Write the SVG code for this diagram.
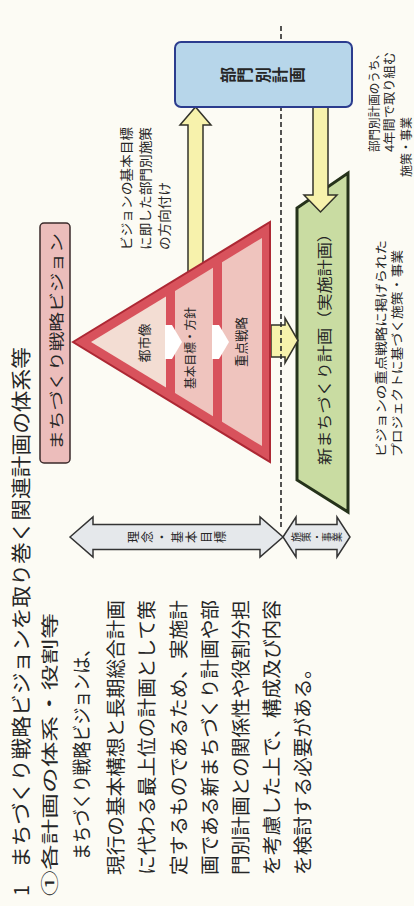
<svg xmlns="http://www.w3.org/2000/svg" width="414" height="906" viewBox="0 0 414 906">
<style>
text{font-family:"Noto Sans CJK JP","Noto Sans",sans-serif;fill:#262626;dominant-baseline:central}
.c{text-anchor:middle}
.yel{fill:#f7f2ac;stroke:#33332a;stroke-width:1.5;stroke-linejoin:miter}
.dbl{fill:#e5e8eb;stroke:#333;stroke-width:1.5;stroke-linejoin:miter}
.sec{fill:#efc4be}
.wh{fill:#ffffff}
</style>
<rect width="414" height="906" fill="#fcfbf4"/>
<g transform="translate(0,906) rotate(-90)">
  <g id="heading">
    <text x="10" y="20" font-size="20">1</text>
    <text x="38" y="20" font-size="20" textLength="521" lengthAdjust="spacingAndGlyphs">まちづくり戦略ビジョンを取り巻く関連計画の体系等</text>
    <text x="10" y="48" font-size="17" textLength="283" lengthAdjust="spacingAndGlyphs">①各計画の体系・役割等</text>
  </g>
  <g id="body" font-size="19">
    <text x="46" y="80" textLength="220" lengthAdjust="spacingAndGlyphs">まちづくり戦略ビジョンは、</text>
    <text x="31" y="114" textLength="275" lengthAdjust="spacingAndGlyphs">現行の基本構想と長期総合計画</text>
    <text x="31" y="145" textLength="275" lengthAdjust="spacingAndGlyphs">に代わる最上位の計画として策</text>
    <text x="31" y="177" textLength="275" lengthAdjust="spacingAndGlyphs">定するものであるため、実施計</text>
    <text x="31" y="208" textLength="275" lengthAdjust="spacingAndGlyphs">画である新まちづくり計画や部</text>
    <text x="31" y="239" textLength="275" lengthAdjust="spacingAndGlyphs">門別計画との関係性や役割分担</text>
    <text x="31" y="270" textLength="275" lengthAdjust="spacingAndGlyphs">を考慮した上で、構成及び内容</text>
    <text x="31" y="301" textLength="216" lengthAdjust="spacingAndGlyphs">を検討する必要がある。</text>
  </g>
  <g id="vision-label">
    <rect x="443" y="40" width="240" height="30" rx="4" fill="#ecbdbb" stroke="#3a2a2a" stroke-width="1.5"/>
    <text x="456" y="55" font-size="15" textLength="217" lengthAdjust="spacingAndGlyphs">まちづくり戦略ビジョン</text>
  </g>
  <g id="new-plan">
    <polygon points="426,297 698,297 733,348 394,348" fill="#c9dca2" stroke="#25321a" stroke-width="3" stroke-linejoin="miter"/>
    <text x="441" y="323" font-size="15" textLength="240" lengthAdjust="spacingAndGlyphs">新まちづくり計画（実施計画）</text>
  </g>
  <g id="connectors">
    <polygon class="yel" points="630,188 781,188 781,180 799,195.5 781,211 781,203 630,203"/>
    <polygon class="yel" points="799,313 711,313 711,304 694,320.5 711,337 711,328 799,328"/>
    <polygon class="yel" points="549,271 581,271 581,285 588,285 565.5,298 543,285 549,285"/>
  </g>
  <line id="divider" x1="379" y1="281" x2="883" y2="281" stroke="#2a2a2a" stroke-width="1.6" stroke-dasharray="5,3"/>
  <g id="pyramid">
    <polygon points="564,73 684,270 444,270" fill="#d8525c" stroke="#ad2834" stroke-width="2" stroke-linejoin="miter"/>
    <polygon points="564,91 609.6,166 518.4,166" fill="#f3ddd3"/>
    <polygon class="sec" points="512.9,175 615.1,175 638.3,213 489.7,213"/>
    <polygon class="sec" points="484.3,222 643.7,222 668.1,262 459.9,262"/>
    <polygon class="wh" points="547,165 581,165 581,172 564,182 547,172"/>
    <polygon class="wh" points="547,212 581,212 581,219 564,229 547,219"/>
    <text class="c" x="563" y="143" font-size="13">都市像</text>
    <text class="c" x="558" y="189" font-size="12" textLength="82" lengthAdjust="spacingAndGlyphs">基本目標・方針</text>
    <text class="c" x="564" y="240" font-size="13" textLength="50" lengthAdjust="spacingAndGlyphs">重点戦略</text>
  </g>
  <g id="sector-plan">
    <rect x="799" y="175" width="65" height="177" rx="6" fill="#b7d6ea" stroke="#2b3c8e" stroke-width="2"/>
    <text class="c" font-size="16" font-weight="bold" fill="#1c1c30" x="831 831 831 831 831" y="226.7 244.1 261.5 278.9 296.3">部門別計画</text>
  </g>
  <g id="note-direction" font-size="13">
    <text x="656" y="125" textLength="123" lengthAdjust="spacingAndGlyphs">ビジョンの基本目標</text>
    <text x="656" y="144" textLength="123" lengthAdjust="spacingAndGlyphs">に即した部門別施策</text>
    <text x="656" y="163" textLength="68" lengthAdjust="spacingAndGlyphs">の方向付け</text>
  </g>
  <g id="note-four-year" font-size="12">
    <text x="754" y="373" textLength="104" lengthAdjust="spacingAndGlyphs">部門別計画のうち、</text>
    <text x="754" y="388" textLength="100" lengthAdjust="spacingAndGlyphs">4年間で取り組む</text>
    <text x="729" y="405" textLength="60" lengthAdjust="spacingAndGlyphs">施策・事業</text>
  </g>
  <g id="note-project" font-size="12.5">
    <text x="449" y="380" textLength="217" lengthAdjust="spacingAndGlyphs">ビジョンの重点戦略に掲げられた</text>
    <text x="449" y="396" textLength="207" lengthAdjust="spacingAndGlyphs">プロジェクトに基づく施策・事業</text>
  </g>
  <g id="range-vision">
    <polygon class="dbl" points="369,70 389,93 381.5,93 381.5,260 389,260 369,283 349,260 356.5,260 356.5,93 349,93"/>
    <text class="c" font-size="12" x="369 369 369 369 369 369 369" y="132.3 146.9 161.5 176 190.6 205.2 219.8">理念・基本目標</text>
  </g>
  <g id="range-plan">
    <polygon class="dbl" points="369,283 389,296 381.5,296 381.5,337 389,337 369,350 349,337 356.5,337 356.5,296 349,296"/>
    <text class="c" font-size="10" x="369 369 369 369 369" y="295.2 305.6 316 326.4 336.8">施策・事業</text>
  </g>
</g>
</svg>
